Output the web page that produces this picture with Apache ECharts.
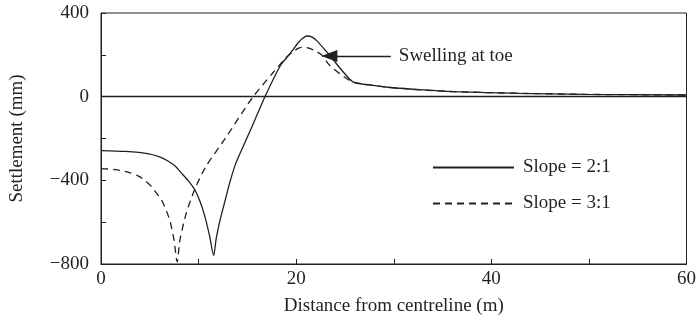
<!DOCTYPE html>
<html><head><meta charset="utf-8">
<script src="https://cdn.jsdelivr.net/npm/echarts@6/dist/echarts.min.js"></script>
<style>html,body{margin:0;padding:0;background:#fff}#c{width:699px;height:321px}</style>
</head><body><div id="c"></div>
<script>
const slope21X = [0, 2.5, 4.9, 6.0, 6.9, 7.6, 8.2, 9.0, 9.6, 10.1, 10.6, 11.1, 11.55, 11.8, 12.2, 12.7, 13.2, 13.8, 14.5, 15.5, 16.8, 18.4, 19.0, 19.6, 20.25, 20.7, 21.1, 21.6, 22.1, 23.3, 25.8, 27.5, 29.4, 33.0, 36.1, 42.9, 49.6, 60];
const slope21Y = [-258, -262, -273, -288, -309, -332, -363, -405, -444, -495, -565, -660, -759, -680, -590, -500, -410, -320, -245, -140, 0, 150, 185, 220, 260, 280, 290, 286, 268, 205, 71, 56, 45, 32, 24, 16, 11, 8];
const slope31X = [0, 1.5, 3.0, 3.9, 4.6, 5.2, 6.2, 6.7, 7.1, 7.5, 7.8, 8.1, 8.75, 9.6, 10.7, 12.8, 15.5, 17.6, 18.9, 19.6, 20.25, 20.8, 21.3, 22.0, 22.6, 23.4, 24.9, 25.8, 27.5, 29.4, 33.0, 36.1, 42.9, 49.6, 60];
const slope31Y = [-344, -349, -364, -381, -405, -432, -495, -545, -600, -690, -790, -682, -555, -444, -338, -195, -6, 113, 184, 212, 232, 237, 232, 218, 200, 151, 95, 71, 56, 45, 32, 24, 16, 11, 8];
const seriesNames = ['Slope = 2:1', 'Slope = 3:1'];
const xTicks = [0, 20, 40, 60];
const yTicks = [-800, -400, 0, 400];
const annotationText = 'Swelling at toe';
const arrowFrom = [29.7, 194];
const arrowTo = [23.4, 194];

const zip = (xs, ys) => xs.map((x, i) => [x, ys[i]]);
const font = 'Liberation Serif';
const ink = '#231f20';
const fs = 19;
const chart = echarts.init(document.getElementById('c'));
chart.setOption({
  animation: false,
  textStyle: {fontFamily: font, color: ink},
  grid: {left: 97, right: 10, top: 13, bottom: 56, show: true, borderColor: ink, borderWidth: 1},
  legend: {
    orient: 'vertical', left: 427, top: 153, itemWidth: 81, itemHeight: 10, itemGap: 17,
    itemStyle: {opacity: 0},
    textStyle: {fontFamily: font, fontSize: fs, color: ink, padding: [0, 0, 0, 4]},
    data: seriesNames.map(n => ({name: n}))
  },
  xAxis: {
    type: 'value', min: 0, max: 60, interval: 10,
    name: 'Distance from centreline (m)', nameLocation: 'middle', nameGap: 33,
    nameTextStyle: {fontFamily: font, fontSize: fs, color: ink},
    axisLine: {onZero: false, lineStyle: {color: ink, width: 1}},
    axisTick: {inside: true, length: 5, lineStyle: {color: ink}},
    splitLine: {show: false},
    axisLabel: {fontFamily: font, fontSize: fs, color: ink, margin: 6,
      formatter: v => xTicks.includes(v) ? String(v) : ''}
  },
  yAxis: {
    type: 'value', min: -800, max: 400, interval: 200,
    name: 'Settlement (mm)', nameLocation: 'middle', nameGap: 74, nameRotate: 90,
    nameTextStyle: {fontFamily: font, fontSize: fs, color: ink},
    axisLine: {onZero: false, lineStyle: {color: ink, width: 1}},
    axisTick: {inside: true, length: 5, lineStyle: {color: ink}},
    splitLine: {show: false},
    axisLabel: {fontFamily: font, fontSize: fs, color: ink, margin: 12,
      formatter: v => yTicks.includes(v) ? String(v).replace('-', '\u2212') : ''}
  },
  series: [
    {
      name: seriesNames[0], type: 'line', data: zip(slope21X, slope21Y), symbol: 'none',
      smooth: 0.25,
      lineStyle: {color: ink, width: 1.3, type: 'solid'}, itemStyle: {color: ink},
      markLine: {
        silent: true, symbol: ['none', 'none'],
        lineStyle: {color: ink, width: 1.3, type: 'solid'},
        label: {show: false},
        data: [{yAxis: 0}]
      }
    },
    {
      name: seriesNames[1], type: 'line', data: zip(slope31X, slope31Y), symbol: 'none',
      smooth: 0.25,
      lineStyle: {color: ink, width: 1.3, type: [7, 5]}, itemStyle: {color: ink},
      markLine: {
        silent: true, symbol: ['none', 'triangle'], symbolSize: [12, 16],
        lineStyle: {color: ink, width: 1.3, type: 'solid'},
        label: {show: true, position: 'start', formatter: annotationText, distance: 8,
          fontFamily: font, fontSize: fs, color: ink},
        data: [[{coord: arrowFrom}, {coord: arrowTo}]]
      }
    }
  ]
});
</script></body></html>
